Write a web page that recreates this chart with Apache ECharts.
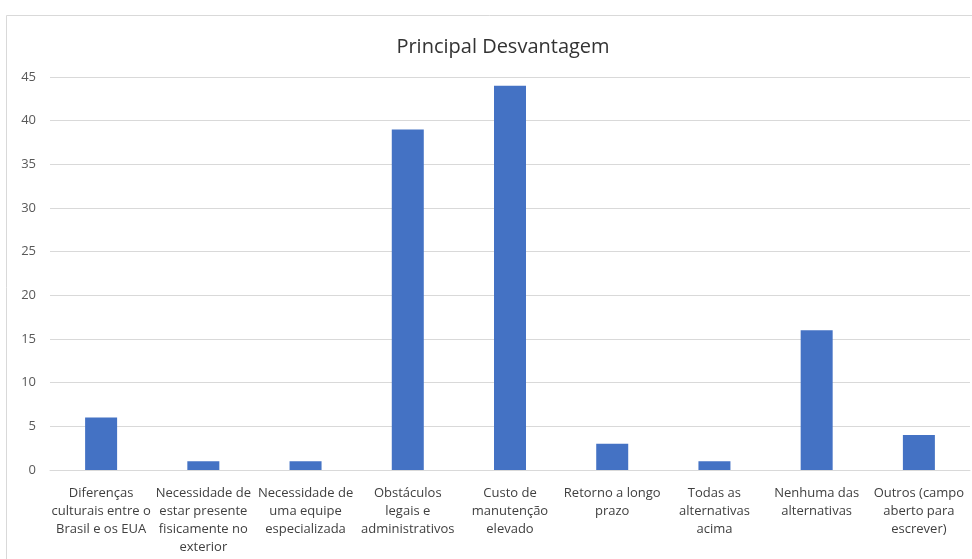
<!DOCTYPE html>
<html>
<head>
<meta charset="utf-8">
<script src="https://cdn.jsdelivr.net/npm/echarts@6/dist/echarts.min.js"></script>
<style>
  html, body { margin: 0; padding: 0; background: #ffffff; }
  #chart { width: 972px; height: 559px; }
</style>
</head>
<body>
<div id="chart"></div>
<script>
// Survey answers: main disadvantage
const categories = [
  'Diferenças\nculturais entre o\nBrasil e os EUA',
  'Necessidade de\nestar presente\nfisicamente no\nexterior',
  'Necessidade de\numa equipe\nespecializada',
  'Obstáculos\nlegais e\nadministrativos',
  'Custo de\nmanutenção\nelevado',
  'Retorno a longo\nprazo',
  'Todas as\nalternativas\nacima',
  'Nenhuma das\nalternativas',
  'Outros (campo\naberto para\nescrever)'
];
const counts = [6, 1, 1, 39, 44, 3, 1, 16, 4];
const yTicks = { min: 0, max: 45, interval: 5 };

const chart = echarts.init(document.getElementById('chart'), null, { renderer: 'canvas' });
const textFont = '"Open Sans", "Liberation Sans", sans-serif';

chart.setOption({
  animation: false,
  backgroundColor: '#ffffff',
  graphic: [{
    type: 'rect',
    left: 4, top: 13,
    shape: { width: 990, height: 570 },
    style: { fill: 'none', stroke: '#d9d9d9', lineWidth: 1 },
    silent: true
  }],
  title: {
    text: 'Principal Desvantagem',
    left: 498, top: 32,
    textAlign: 'center',
    textStyle: { fontFamily: textFont, fontSize: 20, fontWeight: 'normal', color: '#333333' }
  },
  grid: { left: 50, right: 2, top: 77, bottom: 89, containLabel: false },
  xAxis: {
    type: 'category',
    data: categories,
    axisTick: { show: false },
    axisLine: { show: true, lineStyle: { color: '#d9d9d9', width: 1 } },
    axisLabel: {
      interval: 0,
      margin: 14,
      fontFamily: textFont,
      fontSize: 13,
      lineHeight: 18,
      color: '#404040'
    }
  },
  yAxis: {
    type: 'value',
    min: yTicks.min, max: yTicks.max, interval: yTicks.interval,
    axisLine: { show: false },
    axisTick: { show: false },
    splitLine: { lineStyle: { color: '#d9d9d9', width: 1 } },
    axisLabel: { fontFamily: textFont, fontSize: 13, color: '#595959', margin: 14 }
  },
  series: [{
    type: 'bar',
    data: counts,
    barWidth: 32,
    itemStyle: { color: '#4472c4' }
  }]
});
</script>
</body>
</html>
